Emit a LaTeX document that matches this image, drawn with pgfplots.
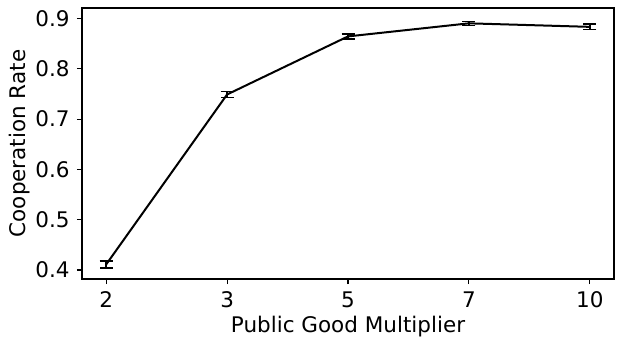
\documentclass[border=0pt]{standalone}
\usepackage{fontspec}
\setmainfont{DejaVu Sans}
\usepackage{pgfplots}
\pgfplotsset{compat=1.18}
\begin{document}
\fontsize{21.5pt}{25pt}\selectfont
\begin{tikzpicture}
\begin{axis}[
  scale only axis,
  width=532pt, height=271pt,
  xmin=-0.2, xmax=4.2,
  ymin=0.382, ymax=0.921,
  xtick={0,1,2,3,4},
  xticklabels={2,3,5,7,10},
  ytick={0.4,0.5,0.6,0.7,0.8,0.9},
  /pgf/number format/.cd, fixed, fixed zerofill, precision=1, assume math mode=true,
  /pgfplots/.cd,
  tick align=outside,
  major tick length=5pt,
  tick style={black, line width=1.1pt},
  axis line style={black, line width=1.1pt},
  xtick pos=bottom, ytick pos=left,
  ticklabel style={font=\fontsize{21.5pt}{25pt}\selectfont},
  label style={font=\fontsize{21.5pt}{25pt}\selectfont},
  xlabel={Public Good Multiplier},
  ylabel={Cooperation Rate},
  xlabel style={yshift=6pt},
  ylabel style={yshift=-9pt},
]
\addplot[black, line width=2pt, mark=none,
  error bars/.cd, y dir=both, y explicit,
  error bar style={line width=1.6pt, black},
  error mark options={rotate=90, mark size=6.5pt, line width=1.6pt, black}]
  coordinates {
  (0,0.411) +- (0,0.0073)
  (1,0.749) +- (0,0.006)
  (2,0.8645) +- (0,0.005)
  (3,0.8905) +- (0,0.004)
  (4,0.8835) +- (0,0.0055)
};
\end{axis}
\pgfresetboundingbox
\path (current axis.south west) ++(-82pt,-60pt) coordinate (bl);
\path (current axis.north east) ++(10pt,8pt) coordinate (tr);
\path[use as bounding box] (bl) rectangle (tr);
\end{tikzpicture}
\end{document}
